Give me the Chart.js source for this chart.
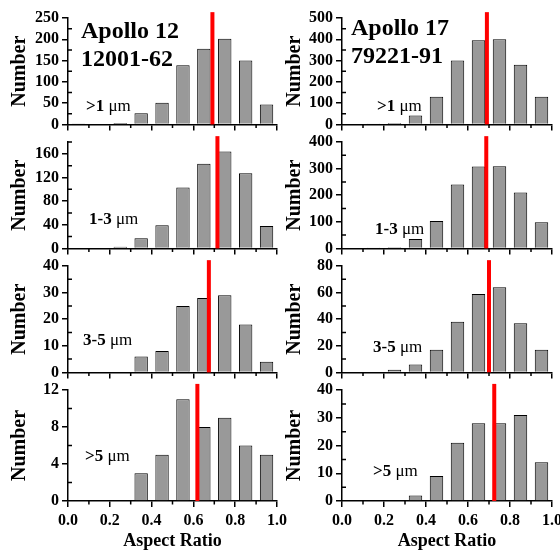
<!DOCTYPE html>
<html>
<head>
<meta charset="utf-8">
<script src="https://cdn.jsdelivr.net/npm/chart.js@4/dist/chart.umd.min.js"></script>
<style>
  html, body { margin: 0; padding: 0; background: #fff; overflow: hidden; }
  #wrap { position: relative; width: 560px; height: 550px; overflow: hidden; }
  #wrap canvas { position: absolute; }
  .note { position: absolute; font-family: 'Liberation Serif', 'Times New Roman', serif; color: #000; white-space: nowrap; z-index: 5; }
  .head { font-size: 24px; font-weight: bold; line-height: 28px; }
  .size { font-size: 17px; font-weight: bold; line-height: 16px; }
  .size span { font-weight: normal; }
</style>
</head>
<body>
<div id="wrap"></div>
<script>
// bin centres of the aspect ratio histograms
const bins = [0.05, 0.15, 0.25, 0.35, 0.45, 0.55, 0.65, 0.75, 0.85, 0.95];
const xTicks = [0, 0.2, 0.4, 0.6, 0.8, 1.0];
const xMinor = [0.1, 0.3, 0.5, 0.7, 0.9];
const sizeLabels = ['>1', '1-3', '3-5', '>5'];

// Apollo 12, 12001-62
const a12Gt1 = [1, 0, 3, 26, 51, 139, 178, 201, 150, 47];
const a12From1to3 = [0, 1, 3, 17, 39, 103, 143, 164, 127, 38];
const a12From3to5 = [0, 0, 0, 6, 8, 25, 28, 29, 18, 4];
const a12Gt5 = [0, 0, 0, 3, 5, 11, 8, 9, 6, 5];
const a12Mean = [0.691, 0.715, 0.674, 0.619];
const a12YMax = [250, 180, 40, 12];
const a12YTicks = [[0, 50, 100, 150, 200, 250], [0, 40, 80, 120, 160], [0, 10, 20, 30, 40], [0, 4, 8, 12]];

// Apollo 17, 79221-91
const a17Gt1 = [0, 1, 7, 42, 130, 300, 395, 400, 280, 130];
const a17From1to3 = [0, 1, 4, 35, 103, 240, 308, 309, 210, 98];
const a17From3to5 = [0, 0, 2, 6, 17, 38, 59, 64, 37, 17];
const a17Gt5 = [0, 0, 0, 2, 9, 21, 28, 28, 31, 14];
const a17Mean = [0.690, 0.687, 0.700, 0.725];
const a17YMax = [500, 400, 80, 40];
const a17YTicks = [[0, 100, 200, 300, 400, 500], [0, 100, 200, 300, 400], [0, 20, 40, 60, 80], [0, 10, 20, 30, 40]];

const serif = "'Liberation Serif', 'Times New Roman', serif";
Chart.defaults.font.family = serif;
Chart.defaults.color = '#000';

// short outward x ticks between the labelled ones, short inward y ticks between majors
const minorTicks = {
  id: 'minorTicks',
  afterDraw(chart) {
    const { ctx, chartArea: a, scales: { x, y } } = chart;
    ctx.save();
    ctx.strokeStyle = '#000';
    ctx.lineWidth = 1.5;
    ctx.beginPath();
    xMinor.forEach(v => {
      const px = x.getPixelForValue(v);
      ctx.moveTo(px, a.bottom);
      ctx.lineTo(px, a.bottom + 3.5);
    });
    const step = y.ticks[1].value - y.ticks[0].value;
    for (let v = step / 2; v <= y.max + 1e-6; v += step) {
      const py = y.getPixelForValue(v);
      ctx.moveTo(a.left, py);
      ctx.lineTo(a.left + 4, py);
    }
    ctx.stroke();
    ctx.restore();
  }
};

const wrap = document.getElementById('wrap');
const rowTop = [0, 124, 248, 372];

function makePanel(col, row, counts, mean, yMax, yTicks) {
  const bottomRow = row === 3;
  const canvas = document.createElement('canvas');
  const w = 300, h = bottomRow ? 178 : 137;
  canvas.width = w;
  canvas.height = h;
  canvas.style.left = (col === 0 ? 0 : 280) + 'px';
  canvas.style.top = rowTop[row] + 'px';
  wrap.appendChild(canvas);

  const yWidth = col === 0 ? 68 : 62;
  const tickFont = { family: serif, size: 16, weight: 'bold' };

  new Chart(canvas, {
    type: 'bar',
    data: {
      datasets: [
        {
          type: 'line',
          data: [{ x: mean, y: 0 }, { x: mean, y: yMax * 1.055 }],
          borderColor: '#ff0000',
          borderWidth: 4,
          pointRadius: 0,
          clip: false,
          order: 0
        },
        {
          type: 'bar',
          data: bins.map((b, i) => ({ x: b, y: counts[i] })),
          backgroundColor: '#999999',
          borderColor: '#000',
          borderWidth: 1,
          barPercentage: 0.8,
          categoryPercentage: 0.8,
          order: 1
        }
      ]
    },
    options: {
      responsive: false,
      animation: false,
      devicePixelRatio: 1,
      layout: { padding: { top: 18, right: col === 0 ? 23 : 28, left: 0, bottom: 0 } },
      plugins: { legend: { display: false }, tooltip: { enabled: false } },
      scales: {
        x: {
          type: 'linear',
          min: 0,
          max: 1,
          bounds: 'data',
          offset: false,
          afterBuildTicks: s => { s.ticks = xTicks.map(v => ({ value: v })); },
          afterFit: s => { s.height = bottomRow ? 49 : 8; },
          grid: { drawOnChartArea: false, drawTicks: true, tickLength: 6, color: '#000', lineWidth: 1.5, offset: false },
          border: { display: true, color: '#000', width: 1.5 },
          ticks: {
            display: bottomRow,
            padding: 4,
            font: tickFont,
            maxRotation: 0,
            minRotation: 0,
            autoSkip: false,
            callback: v => v.toFixed(1)
          },
          title: {
            display: bottomRow,
            text: 'Aspect Ratio',
            font: { family: serif, size: 18, weight: 'bold', lineHeight: 1 },
            padding: 0
          }
        },
        y: {
          min: 0,
          max: yMax,
          bounds: 'data',
          afterBuildTicks: s => { s.ticks = yTicks.map(v => ({ value: v })); },
          afterFit: s => { s.width = yWidth; },
          grid: { drawOnChartArea: false, drawTicks: true, tickLength: 6, color: '#000', lineWidth: 1.5 },
          border: { display: true, color: '#000', width: 1.5 },
          ticks: { padding: 3, font: tickFont },
          title: {
            display: true,
            text: 'Number',
            font: { family: serif, size: 20, weight: 'bold', lineHeight: 1 },
            padding: { top: col === 0 ? 10 : 5, bottom: 0 }
          }
        }
      }
    },
    plugins: [minorTicks]
  });
}

const a12Sets = [a12Gt1, a12From1to3, a12From3to5, a12Gt5];
const a17Sets = [a17Gt1, a17From1to3, a17From3to5, a17Gt5];
for (let r = 0; r < 4; r++) {
  makePanel(0, r, a12Sets[r], a12Mean[r], a12YMax[r], a12YTicks[r]);
  makePanel(1, r, a17Sets[r], a17Mean[r], a17YMax[r], a17YTicks[r]);
}

function note(cls, html, left, top) {
  const d = document.createElement('div');
  d.className = 'note ' + cls;
  d.innerHTML = html;
  d.style.left = left + 'px';
  d.style.top = top + 'px';
  wrap.appendChild(d);
}

note('head', 'Apollo 12<br>12001-62', 81, 16);
note('head', 'Apollo 17<br>79221-91', 351, 13);

const sizePos = [
  [[86, 98], [89, 211], [83, 332], [85, 448]],
  [[377, 98], [375, 221], [373, 339], [373, 463]]
];
sizePos.forEach(colPos => colPos.forEach((p, r) => {
  note('size', sizeLabels[r].replace('>', '&gt;') + ' <span>μm</span>', p[0], p[1]);
}));
</script>
</body>
</html>
